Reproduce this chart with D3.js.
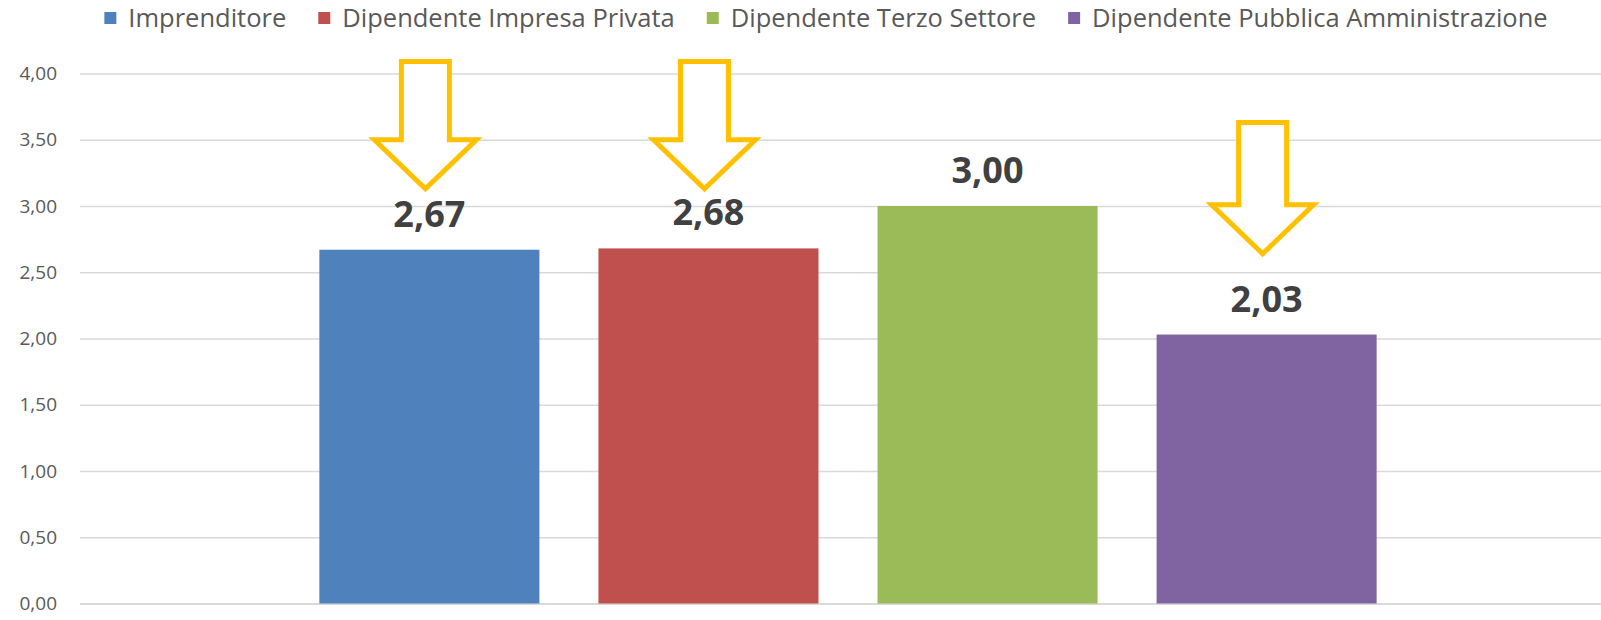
<!DOCTYPE html>
<html>
<head>
<meta charset="utf-8">
<script src="https://cdn.jsdelivr.net/npm/d3@7"></script>
<style>
  body { margin: 0; background: #fff; }
  svg { display: block; }
</style>
</head>
<body>
<div id="chart"></div>
<script>
// data
const series = ["Imprenditore", "Dipendente Impresa Privata", "Dipendente Terzo Settore", "Dipendente Pubblica Amministrazione"];
const values = [2.67, 2.68, 3.00, 2.03];
const colors = ["#4F81BD", "#C0504D", "#9BBB59", "#8064A2"];
const yTicks = [0, 0.5, 1, 1.5, 2, 2.5, 3, 3.5, 4];
// arrow annotations (value units): top of shaft, tip of head; null = no arrow
const arrowTop = [4.09, 4.09, null, 3.63];
const arrowTip = [3.13, 3.13, null, 2.64];

const width = 1601;
const height = 620;
const margin = { top: 73.5, right: -15, bottom: 16.5, left: 80 };

const svg = d3.select("#chart")
  .append("svg")
  .attr("width", width)
  .attr("height", height);

const y = d3.scaleLinear()
  .domain([0, 4])
  .range([height - margin.bottom, margin.top]);

const x0 = d3.scaleBand()
  .domain([""])
  .range([margin.left, width - margin.right])
  .paddingOuter(0.188);

const x1 = d3.scaleBand()
  .domain(series)
  .range([x0(""), x0("") + x0.bandwidth()])
  .paddingInner(0.2115)
  .paddingOuter(0.1057);

const fmt = (v) => d3.format(".2f")(v).replace(".", ",");

// ------------
// GRID + AXIS
// ------------
const yAxis = d3.axisLeft(y)
  .tickValues(yTicks)
  .tickSize(-(width - margin.left + 20))
  .tickPadding(23)
  .tickFormat(fmt);

const gy = svg.append("g")
  .attr("transform", `translate(${margin.left},0)`)
  .call(yAxis);

gy.select(".domain").remove();
gy.selectAll(".tick line")
  .attr("stroke", "#d9d9d9")
  .attr("stroke-width", (d) => (d === 0 ? 2 : 1.5));
gy.selectAll(".tick text")
  .attr("fill", "#595959")
  .style("font-family", "'Open Sans', sans-serif")
  .style("font-size", "19px");

// ----
// BARS
// ----
svg.append("g")
  .selectAll("rect")
  .data(series)
  .enter()
  .append("rect")
  .attr("x", (d) => x1(d))
  .attr("y", (d, i) => y(values[i]))
  .attr("width", x1.bandwidth())
  .attr("height", (d, i) => y(0) - y(values[i]))
  .attr("fill", (d, i) => colors[i]);

// ------------
// VALUE LABELS
// ------------
svg.append("g")
  .selectAll("text")
  .data(series)
  .enter()
  .append("text")
  .attr("x", (d) => x1(d) + x1.bandwidth() / 2)
  .attr("y", (d, i) => y(values[i]) - 23)
  .attr("text-anchor", "middle")
  .attr("fill", "#404040")
  .style("font-family", "'Open Sans', sans-serif")
  .style("font-weight", "bold")
  .style("font-size", "36px")
  .text((d, i) => fmt(values[i]));

// ------
// ARROWS
// ------
const shaftHalf = 24;
const headHalf = 51;
const headLen = 49;

function arrowPath(cx, top, tip) {
  const shoulder = tip - headLen;
  return [
    [cx - shaftHalf, top],
    [cx + shaftHalf, top],
    [cx + shaftHalf, shoulder],
    [cx + headHalf, shoulder],
    [cx, tip],
    [cx - headHalf, shoulder],
    [cx - shaftHalf, shoulder],
  ];
}

svg.append("g")
  .selectAll("polygon")
  .data(series.filter((d, i) => arrowTop[i] !== null))
  .enter()
  .append("polygon")
  .attr("points", (d) => {
    const i = series.indexOf(d);
    const cx = x1(d) + x1.bandwidth() / 2 - 4;
    return arrowPath(cx, y(arrowTop[i]), y(arrowTip[i])).map((p) => p.join(",")).join(" ");
  })
  .attr("fill", "#fff")
  .attr("stroke", "#FFC000")
  .attr("stroke-width", 5)
  .attr("stroke-linejoin", "miter");

// ------
// LEGEND
// ------
const legend = svg.append("g");
let lx = 0;
series.forEach((name, i) => {
  const item = legend.append("g").attr("transform", `translate(${lx},0)`);
  item.append("rect")
    .attr("x", 0)
    .attr("y", 12)
    .attr("width", 12)
    .attr("height", 12)
    .attr("fill", colors[i]);
  const t = item.append("text")
    .attr("x", 24)
    .attr("y", 27)
    .attr("fill", "#595959")
    .style("font-family", "'Open Sans', sans-serif")
    .style("font-size", "25.5px")
    .text(name);
  lx += 24 + t.node().getComputedTextLength() + 32;
});
lx -= 32;
legend.attr("transform", `translate(${826 - lx / 2},0)`);
</script>
</body>
</html>
